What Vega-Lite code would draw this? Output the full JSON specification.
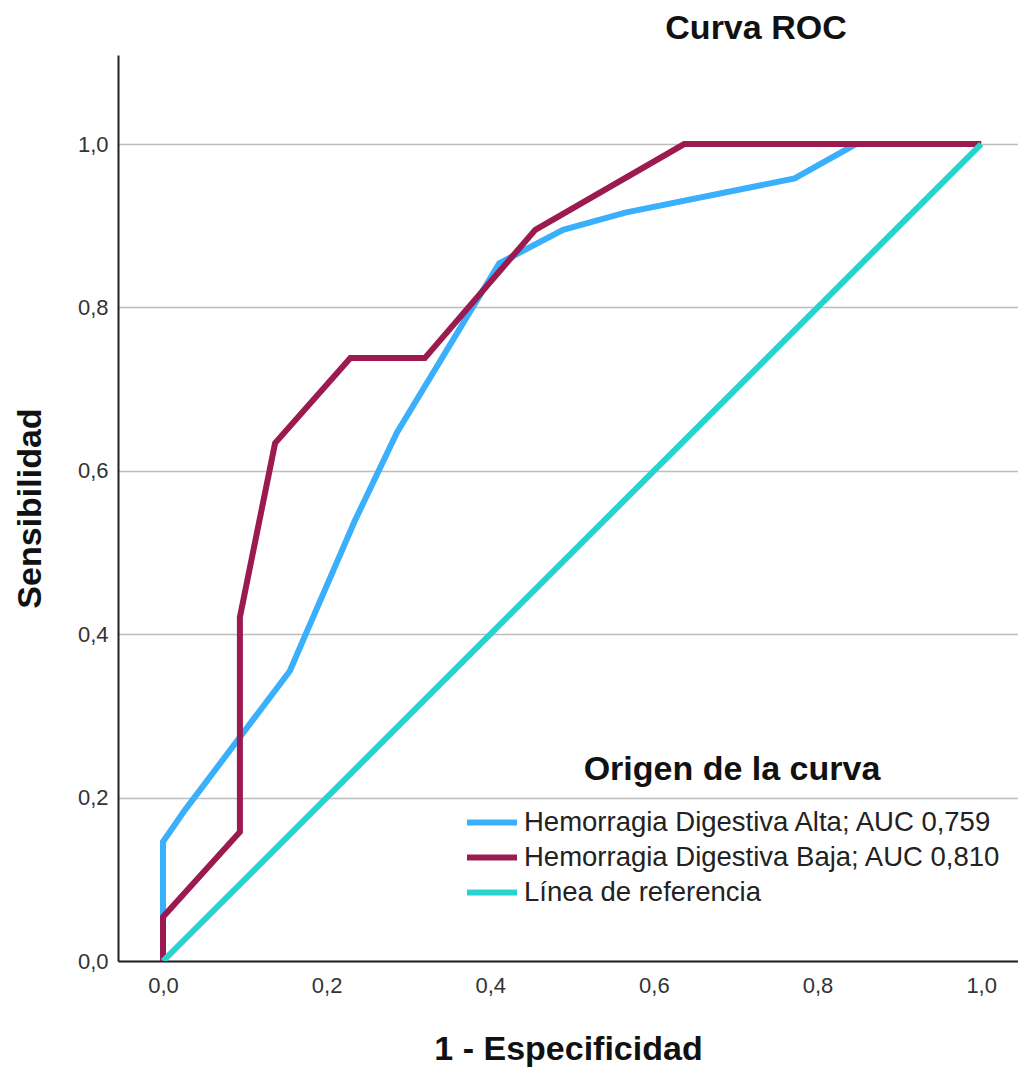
{
  "$schema": "https://vega.github.io/schema/vega-lite/v6.json",
  "width": 900,
  "height": 906,
  "autosize": {"type": "none"},
  "padding": {"left": 118, "top": 55, "right": 0, "bottom": 108},
  "background": "white",
  "title": {
    "text": "Curva ROC",
    "font": "Liberation Sans",
    "fontSize": 34,
    "fontWeight": "bold",
    "color": "#111111",
    "anchor": "middle",
    "dx": 188,
    "offset": 9
  },
  "config": {
    "view": {"stroke": null},
    "font": "Liberation Sans"
  },
  "data": {
    "values": [
      {"s": "Hemorragia Digestiva Alta; AUC 0,759", "i": 0, "x": 0, "y": 0},
      {"s": "Hemorragia Digestiva Alta; AUC 0,759", "i": 1, "x": 0, "y": 0.146},
      {"s": "Hemorragia Digestiva Alta; AUC 0,759", "i": 2, "x": 0.027, "y": 0.185},
      {"s": "Hemorragia Digestiva Alta; AUC 0,759", "i": 3, "x": 0.155, "y": 0.355},
      {"s": "Hemorragia Digestiva Alta; AUC 0,759", "i": 4, "x": 0.235, "y": 0.54},
      {"s": "Hemorragia Digestiva Alta; AUC 0,759", "i": 5, "x": 0.286, "y": 0.647},
      {"s": "Hemorragia Digestiva Alta; AUC 0,759", "i": 6, "x": 0.411, "y": 0.854},
      {"s": "Hemorragia Digestiva Alta; AUC 0,759", "i": 7, "x": 0.489, "y": 0.895},
      {"s": "Hemorragia Digestiva Alta; AUC 0,759", "i": 8, "x": 0.565, "y": 0.916},
      {"s": "Hemorragia Digestiva Alta; AUC 0,759", "i": 9, "x": 0.772, "y": 0.958},
      {"s": "Hemorragia Digestiva Alta; AUC 0,759", "i": 10, "x": 0.847, "y": 1.0},
      {"s": "Hemorragia Digestiva Alta; AUC 0,759", "i": 11, "x": 1.0, "y": 1.0},
      {"s": "Hemorragia Digestiva Baja; AUC 0,810", "i": 0, "x": 0, "y": 0},
      {"s": "Hemorragia Digestiva Baja; AUC 0,810", "i": 1, "x": 0, "y": 0.054},
      {"s": "Hemorragia Digestiva Baja; AUC 0,810", "i": 2, "x": 0.094, "y": 0.158},
      {"s": "Hemorragia Digestiva Baja; AUC 0,810", "i": 3, "x": 0.094, "y": 0.421},
      {"s": "Hemorragia Digestiva Baja; AUC 0,810", "i": 4, "x": 0.137, "y": 0.634},
      {"s": "Hemorragia Digestiva Baja; AUC 0,810", "i": 5, "x": 0.229, "y": 0.738},
      {"s": "Hemorragia Digestiva Baja; AUC 0,810", "i": 6, "x": 0.32, "y": 0.738},
      {"s": "Hemorragia Digestiva Baja; AUC 0,810", "i": 7, "x": 0.455, "y": 0.895},
      {"s": "Hemorragia Digestiva Baja; AUC 0,810", "i": 8, "x": 0.637, "y": 1.0},
      {"s": "Hemorragia Digestiva Baja; AUC 0,810", "i": 9, "x": 1.0, "y": 1.0},
      {"s": "Línea de referencia", "i": 0, "x": 0, "y": 0},
      {"s": "Línea de referencia", "i": 1, "x": 1.0, "y": 1.0}
    ]
  },
  "mark": {"type": "line", "strokeWidth": 6, "strokeJoin": "miter", "strokeCap": "butt", "clip": true},
  "encoding": {
    "x": {
      "field": "x",
      "type": "quantitative",
      "scale": {"domain": [-0.055, 1.045], "nice": false, "zero": false},
      "axis": {
        "title": "1 - Especificidad",
        "titleFont": "Liberation Sans",
        "titleFontSize": 34,
        "titleFontWeight": "bold",
        "titleColor": "#111111",
        "titlePadding": 36,
        "values": [0, 0.2, 0.4, 0.6, 0.8, 1.0],
        "labelExpr": "replace(format(datum.value, '.1f'), '.', ',')",
        "labelFontSize": 22,
        "labelColor": "#333333",
        "labelPadding": 14,
        "ticks": false,
        "grid": false,
        "domainColor": "#222222",
        "domainWidth": 2
      }
    },
    "y": {
      "field": "y",
      "type": "quantitative",
      "scale": {"domain": [0, 1.109], "nice": false, "zero": false},
      "axis": {
        "title": "Sensibilidad",
        "titleFont": "Liberation Sans",
        "titleFontSize": 34,
        "titleFontWeight": "bold",
        "titleColor": "#111111",
        "titlePadding": 30,
        "values": [0, 0.2, 0.4, 0.6, 0.8, 1.0],
        "labelExpr": "replace(format(datum.value, '.1f'), '.', ',')",
        "labelFontSize": 22,
        "labelColor": "#333333",
        "labelPadding": 10,
        "ticks": false,
        "grid": true,
        "gridColor": "#bdbdbd",
        "gridWidth": 1.5,
        "domainColor": "#222222",
        "domainWidth": 2
      }
    },
    "color": {
      "field": "s",
      "type": "nominal",
      "sort": ["Hemorragia Digestiva Alta; AUC 0,759", "Hemorragia Digestiva Baja; AUC 0,810", "Línea de referencia"],
      "scale": {
        "domain": ["Hemorragia Digestiva Alta; AUC 0,759", "Hemorragia Digestiva Baja; AUC 0,810", "Línea de referencia"],
        "range": ["#3AAFFB", "#9B1A50", "#27D3CC"]
      },
      "legend": {
        "title": "Origen de la curva",
        "orient": "none",
        "legendX": 346,
        "legendY": 698,
        "titleFont": "Liberation Sans",
        "titleFontSize": 34,
        "titleFontWeight": "bold",
        "titleColor": "#111111",
        "titleAnchor": "middle",
        "titlePadding": 20,
        "titleLimit": 700,
        "symbolType": "M-1,0H3",
        "symbolSize": 625,
        "symbolStrokeWidth": 6,
        "labelFont": "Liberation Sans",
        "labelFontSize": 27.5,
        "labelColor": "#222222",
        "labelLimit": 700,
        "labelOffset": 29,
        "rowPadding": 6
      }
    },
    "order": {"field": "i", "type": "quantitative"}
  }
}
